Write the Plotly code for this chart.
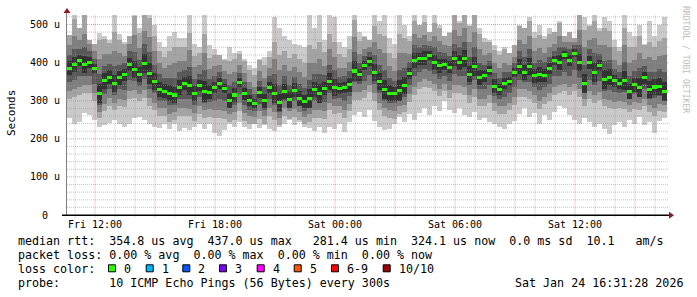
import plotly.graph_objects as go
import pandas as pd

# ---------------- data (values in microseconds) ----------------
step_start = "2026-01-23 10:36:00"
step_minutes = 15

median_us = [
    385, 395, 405, 395, 400, 385, 320, 352, 362, 345, 360, 368, 395, 382, 368, 398, 372, 350, 330, 325, 320, 315, 335,
    345, 339, 318, 340, 325, 322, 335, 345, 333, 300, 315, 348, 318, 300, 292, 322, 300, 335, 320, 295, 325, 302, 328, 305, 298,
    305, 330, 320, 332, 350, 335, 332, 335, 342, 378, 368, 392, 402, 375, 350, 330, 320, 318, 326, 340, 372, 405, 410, 412, 418,
    400, 392, 395, 388, 410, 400, 410, 370, 390, 360, 365, 380, 338, 330, 345, 350, 375, 390, 375, 390, 365, 368, 366, 385, 405,
    400, 420, 405, 425, 400, 345, 400, 375, 392, 355, 362, 352, 345, 352, 325, 342, 335, 360, 330, 336, 337, 325,
]
ping_max_us = [
    472, 530, 490, 530, 460, 450, 478, 470, 460, 530, 475, 455, 470, 530, 490, 530, 530, 500, 455, 440, 470, 480, 465,
    465, 530, 450, 440, 530, 445, 435, 420, 410, 440, 425, 430, 410, 395, 385, 410, 415, 430, 520, 490, 470, 460, 450, 445, 440,
    530, 490, 530, 460, 530, 520, 455, 440, 470, 530, 480, 470, 460, 530, 510, 530, 465, 450, 530, 500, 470, 530, 500, 530, 480,
    525, 500, 470, 480, 530, 510, 530, 500, 530, 490, 465, 460, 445, 430, 440, 425, 445, 500, 490, 520, 480, 500, 470, 490, 480,
    510, 470, 480, 465, 530, 520, 500, 530, 490, 520, 510, 460, 440, 530, 480, 470, 500, 450, 510, 470, 500, 520,
]
ping_min_us = [
    255, 240, 245, 268, 262, 250, 232, 235, 242, 250, 240, 232, 238, 255, 258, 250, 240, 232, 228, 240, 225, 238, 220,
    228, 222, 232, 240, 226, 238, 215, 207, 222, 240, 232, 245, 230, 225, 238, 228, 235, 225, 220, 230, 240, 250, 235, 245, 230,
    228, 220, 230, 215, 232, 225, 240, 218, 245, 262, 270, 258, 275, 248, 232, 222, 225, 238, 258, 245, 265, 250, 268, 280, 262,
    285, 272, 298, 275, 268, 280, 262, 258, 270, 250, 255, 245, 240, 232, 225, 238, 248, 265, 280, 258, 268, 240, 262, 250, 270,
    285, 280, 262, 250, 240, 255, 245, 232, 238, 225, 212, 235, 245, 230, 250, 240, 258, 235, 245, 215, 248, 255,
]
# distance of the inner smoke bands (2nd..9th ping) from the median
p9_above_us = [
    95, 120, 85, 130, 80, 70, 140, 110, 90, 135, 100, 80, 90, 140, 110, 130, 145, 120, 100, 90, 110, 125, 105,
    95, 140, 100, 85, 150, 90, 85, 80, 75, 105, 95, 75, 85, 80, 75, 85, 95, 80, 135, 125, 105, 110, 95, 105, 100,
    140, 105, 135, 95, 125, 120, 90, 80, 95, 135, 90, 75, 70, 120, 125, 140, 105, 95, 150, 125, 85, 105, 90, 95, 70,
    105, 100, 80, 90, 115, 105, 120, 125, 135, 115, 90, 75, 95, 90, 90, 75, 70, 105, 115, 120, 100, 105, 95, 90, 75,
    105, 65, 85, 60, 125, 140, 95, 135, 90, 135, 120, 90, 85, 140, 115, 100, 135, 85, 125, 105, 120, 140,
]
p2_below_us = [
    80, 85, 90, 75, 80, 85, 65, 80, 75, 70, 75, 85, 90, 75, 70, 90, 85, 75, 70, 65, 75, 65, 75,
    85, 80, 70, 75, 70, 65, 80, 90, 80, 55, 65, 75, 70, 60, 55, 70, 60, 75, 70, 60, 65, 50, 70, 55, 60,
    60, 75, 65, 80, 75, 70, 65, 80, 70, 75, 65, 85, 80, 75, 75, 70, 65, 65, 60, 70, 75, 90, 80, 75, 85,
    75, 80, 70, 80, 90, 80, 95, 75, 80, 75, 80, 85, 65, 65, 80, 75, 85, 80, 65, 85, 70, 90, 75, 85, 90,
    80, 95, 90, 100, 90, 60, 95, 80, 90, 70, 80, 75, 65, 75, 55, 65, 60, 75, 60, 75, 65, 55,
]
p8_above_us = [
    60, 75, 55, 80, 50, 45, 90, 70, 60, 85, 65, 50, 55, 90, 70, 85, 95, 80, 70, 60, 75, 85, 70,
    60, 95, 70, 55, 100, 60, 55, 50, 45, 70, 60, 45, 55, 50, 45, 55, 60, 50, 90, 85, 70, 75, 60, 70, 65,
    95, 70, 90, 60, 85, 80, 55, 50, 60, 90, 55, 45, 40, 80, 85, 95, 70, 60, 100, 85, 50, 70, 55, 60, 40,
    70, 65, 50, 55, 75, 70, 80, 85, 90, 75, 55, 45, 60, 55, 55, 45, 40, 70, 75, 80, 65, 70, 60, 55, 45,
    70, 35, 50, 30, 85, 95, 60, 90, 55, 90, 80, 55, 50, 95, 75, 65, 90, 50, 85, 70, 80, 95,
]
p3_below_us = [
    60, 65, 70, 55, 60, 65, 50, 60, 55, 50, 55, 65, 70, 55, 50, 70, 65, 55, 50, 45, 55, 45, 55,
    65, 60, 50, 55, 50, 45, 60, 70, 60, 35, 45, 55, 50, 40, 35, 50, 40, 55, 50, 40, 45, 30, 50, 35, 40,
    40, 55, 45, 60, 55, 50, 45, 60, 50, 55, 45, 65, 60, 55, 55, 50, 45, 45, 40, 50, 55, 70, 60, 55, 65,
    55, 60, 50, 60, 70, 60, 75, 55, 60, 55, 60, 65, 45, 45, 60, 55, 65, 60, 45, 65, 50, 70, 55, 65, 70,
    60, 75, 70, 80, 70, 40, 75, 60, 70, 50, 60, 55, 45, 55, 35, 45, 40, 55, 40, 55, 45, 35,
]
p7_above_us = [
    35, 40, 30, 45, 30, 25, 50, 40, 35, 45, 35, 30, 35, 45, 40, 50, 55, 45, 40, 35, 40, 45, 40,
    35, 50, 40, 30, 55, 35, 30, 30, 25, 40, 35, 25, 30, 30, 25, 30, 35, 30, 50, 45, 40, 40, 35, 40, 35,
    50, 40, 50, 35, 45, 45, 30, 30, 35, 50, 30, 25, 25, 45, 45, 50, 40, 35, 55, 45, 30, 40, 30, 35, 25,
    40, 35, 30, 30, 40, 40, 45, 45, 50, 40, 30, 25, 35, 30, 30, 25, 25, 40, 40, 45, 35, 40, 35, 30, 25,
    40, 20, 30, 20, 45, 50, 35, 50, 30, 50, 45, 30, 30, 50, 40, 35, 50, 30, 45, 40, 45, 50,
]
p4_below_us = [
    35, 40, 40, 30, 35, 40, 30, 35, 30, 30, 30, 40, 40, 30, 30, 40, 40, 30, 30, 25, 30, 25, 30,
    40, 35, 30, 30, 30, 25, 35, 40, 35, 20, 25, 30, 30, 25, 20, 30, 25, 30, 30, 25, 25, 20, 30, 20, 25,
    25, 30, 25, 35, 30, 30, 25, 35, 30, 30, 25, 40, 35, 30, 30, 30, 25, 25, 25, 30, 30, 40, 35, 30, 40,
    30, 35, 30, 35, 40, 35, 45, 30, 35, 30, 35, 40, 25, 25, 35, 30, 40, 35, 25, 40, 30, 40, 30, 40, 40,
    35, 45, 40, 45, 40, 25, 45, 35, 40, 30, 35, 30, 25, 30, 20, 25, 25, 30, 25, 30, 25, 20,
]
p56_half_us = [
    18, 20, 15, 22, 15, 12, 25, 20, 18, 22, 18, 15, 18, 22, 20, 25, 28, 22, 20, 18, 20, 22, 20,
    18, 25, 20, 15, 28, 18, 15, 15, 12, 20, 18, 12, 15, 15, 12, 15, 18, 15, 25, 22, 20, 20, 18, 20, 18,
    25, 20, 25, 18, 22, 22, 15, 15, 18, 25, 15, 12, 12, 22, 22, 25, 20, 18, 28, 22, 15, 20, 15, 18, 12,
    20, 18, 15, 15, 20, 20, 22, 22, 25, 20, 15, 12, 18, 15, 15, 12, 12, 20, 20, 22, 18, 20, 18, 15, 12,
    20, 10, 15, 10, 22, 25, 18, 25, 15, 25, 22, 15, 15, 25, 20, 18, 25, 15, 22, 20, 22, 25,
]

y_tick_vals = [0, 100, 200, 300, 400, 500]
y_tick_text = ["0\u00a0\u00a0", "100 u", "200 u", "300 u", "400 u", "500 u"]
x_tick_times = ["2026-01-23 12:00", "2026-01-23 18:00", "2026-01-24 00:00",
                "2026-01-24 06:00", "2026-01-24 12:00"]
x_tick_text = ["Fri 12:00", "Fri 18:00", "Sat 00:00", "Sat 06:00", "Sat 12:00"]

loss_labels = ["0", "1", "2", "3", "4", "5", "6-9", "10/10"]
loss_colors = ["#26ff00", "#00b8ff", "#0059ff", "#7e00ff", "#ff00ff", "#ff5500", "#ff0000", "#a10000"]

legend_rows = [
    "median rtt:  354.8 us avg  437.0 us max   281.4 us min  324.1 us now  0.0 ms sd  10.1   am/s",
    "packet loss: 0.00 % avg  0.00 % max  0.00 % min  0.00 % now",
    "loss color:",
    "probe:       10 ICMP Echo Pings (56 Bytes) every 300s",
]
stamp_text = "Sat Jan 24 16:31:28 2026"

# ---------------- layout constants ----------------
W, H = 697, 297
L, T, PW, PH = 67, 15, 600, 200
x_start = pd.Timestamp("2026-01-23 10:36:00")
x_end = pd.Timestamp("2026-01-24 16:36:00")
y_max = 525
MONO = "DejaVu Sans Mono"

smoke_colors = ["#cacaca", "#a4a4a4", "#7e7e7e", "#585858", "#323232"]
green = "#26ff00"

n = len(median_us)
for arr in (ping_max_us, ping_min_us, p9_above_us, p2_below_us, p8_above_us,
            p3_below_us, p7_above_us, p4_below_us, p56_half_us):
    assert len(arr) == n

times = pd.date_range(step_start, periods=n, freq=f"{step_minutes}min") + pd.Timedelta(minutes=step_minutes / 2)
bar_w = step_minutes * 60 * 1000


def band(below, above):
    lo = [max(m - d, a) for m, d, a in zip(median_us, below, ping_min_us)]
    hi = [min(m + u, b) for m, u, b in zip(median_us, above, ping_max_us)]
    return lo, hi


bands = [
    (ping_min_us, ping_max_us),
    band(p2_below_us, p9_above_us),
    band(p3_below_us, p8_above_us),
    band(p4_below_us, p7_above_us),
    band(p56_half_us, p56_half_us),
]

fig = go.Figure()
for (lo, hi), col in zip(bands, smoke_colors):
    fig.add_trace(go.Bar(x=times, y=[h - l for l, h in zip(lo, hi)], base=lo, width=bar_w,
                         marker=dict(color=col, line=dict(width=0)), hoverinfo="skip"))

mh = 4.0  # half height of the median mark (about 1.5 px)
fig.add_trace(go.Bar(x=times, y=[2 * mh] * n, base=[m - mh for m in median_us], width=bar_w,
                     marker=dict(color=green, line=dict(width=0)), hoverinfo="skip"))


def xp(px):
    return (px - L) / PW


def yp(py):
    return (T + PH - py) / PH


shapes = []
grid_minor = dict(color="rgba(150,150,150,0.55)", width=1, dash="1px,1px")
grid_major = dict(color="rgba(225,110,110,0.65)", width=1, dash="1px,1px")
# vertical grid: every hour, red every 3 hours
hour = pd.Timestamp("2026-01-23 11:00")
while hour < x_end:
    ln = grid_major if hour.hour % 3 == 0 else grid_minor
    shapes.append(dict(type="line", xref="x", yref="paper", x0=hour, x1=hour, y0=-0.012, y1=1,
                       line=ln, layer="above"))
    hour += pd.Timedelta(hours=1)
# horizontal grid: every 20 u, red every 100 u
for v in range(20, y_max, 20):
    ln = grid_major if v % 100 == 0 else grid_minor
    shapes.append(dict(type="line", xref="paper", yref="y", x0=0, x1=1.002, y0=v, y1=v,
                       line=ln, layer="above"))
# axes
shapes.append(dict(type="line", xref="paper", yref="paper", x0=xp(66.5), x1=xp(66.5), y0=0, y1=yp(11),
                   line=dict(color="#808080", width=1), layer="above"))
shapes.append(dict(type="line", xref="paper", yref="paper", x0=xp(62), x1=xp(670), y0=yp(215.2), y1=yp(215.2),
                   line=dict(color="#000000", width=1.6), layer="above"))
arrow_col = "#8b1a1a"
shapes.append(dict(type="path", xref="paper", yref="paper",
                   path=f"M {xp(63.5)} {yp(13)} L {xp(70.5)} {yp(13)} L {xp(67)} {yp(8)} Z",
                   fillcolor=arrow_col, line=dict(width=0), layer="above"))
shapes.append(dict(type="path", xref="paper", yref="paper",
                   path=f"M {xp(669)} {yp(211.7)} L {xp(669)} {yp(218.7)} L {xp(674)} {yp(215.2)} Z",
                   fillcolor=arrow_col, line=dict(width=0), layer="above"))

annotations = []
row_y = [241, 255, 269, 283]
fs = 11.66
for txt, ry in zip(legend_rows, row_y):
    annotations.append(dict(xref="paper", yref="paper", x=xp(15.5), y=yp(ry), xanchor="left", yanchor="middle",
                            text=txt.replace(" ", "\u00a0"), showarrow=False,
                            font=dict(family=MONO, size=fs, color="#000000")))
annotations.append(dict(xref="paper", yref="paper", x=xp(512.5), y=yp(row_y[3]), xanchor="left", yanchor="middle",
                        text=stamp_text.replace(" ", "\u00a0"), showarrow=False,
                        font=dict(family=MONO, size=fs, color="#000000")))
square_left = [108, 145.7, 182.3, 219, 256.7, 293.7, 331, 382.7]
for sx, lab, col in zip(square_left, loss_labels, loss_colors):
    shapes.append(dict(type="rect", xref="paper", yref="paper", x0=xp(sx + 0.5), x1=xp(sx + 7.5),
                       y0=yp(264.8), y1=yp(271.8), fillcolor=col, line=dict(color="#000000", width=1)))
    annotations.append(dict(xref="paper", yref="paper", x=xp(sx + 14), y=yp(row_y[2]), xanchor="left",
                            yanchor="middle", text=lab, showarrow=False,
                            font=dict(family=MONO, size=fs, color="#000000")))
annotations.append(dict(xref="paper", yref="paper", x=xp(11), y=yp(113), xanchor="center", yanchor="middle",
                        text="Seconds", textangle=-90, showarrow=False,
                        font=dict(family=MONO, size=11, color="#000000")))
annotations.append(dict(xref="paper", yref="paper", x=xp(686), y=yp(59), xanchor="center", yanchor="middle",
                        text="RRDTOOL / TOBI OETIKER".replace(" ", "\u00a0"), textangle=90, showarrow=False,
                        font=dict(family=MONO, size=8.1, color="#bdbdbd")))

fig.update_layout(
    width=W, height=H,
    margin=dict(l=L, r=W - L - PW, t=T, b=H - T - PH, pad=0),
    paper_bgcolor="#ffffff", plot_bgcolor="#ffffff",
    barmode="overlay", bargap=0, showlegend=False,
    shapes=shapes, annotations=annotations,
    xaxis=dict(type="date", range=[x_start, x_end], showgrid=False, zeroline=False, showline=False,
               tickvals=x_tick_times, ticktext=x_tick_text, ticks="", ticklabelstandoff=2,
               tickfont=dict(family=MONO, size=10, color="#000000"), fixedrange=True),
    yaxis=dict(range=[0, y_max], showgrid=False, zeroline=False, showline=False,
               tickvals=y_tick_vals, ticktext=y_tick_text, ticks="", ticklabelstandoff=6,
               tickfont=dict(family=MONO, size=10, color="#000000"), fixedrange=True),
)

fig.write_html("out.html", config={"displayModeBar": False, "staticPlot": True})
